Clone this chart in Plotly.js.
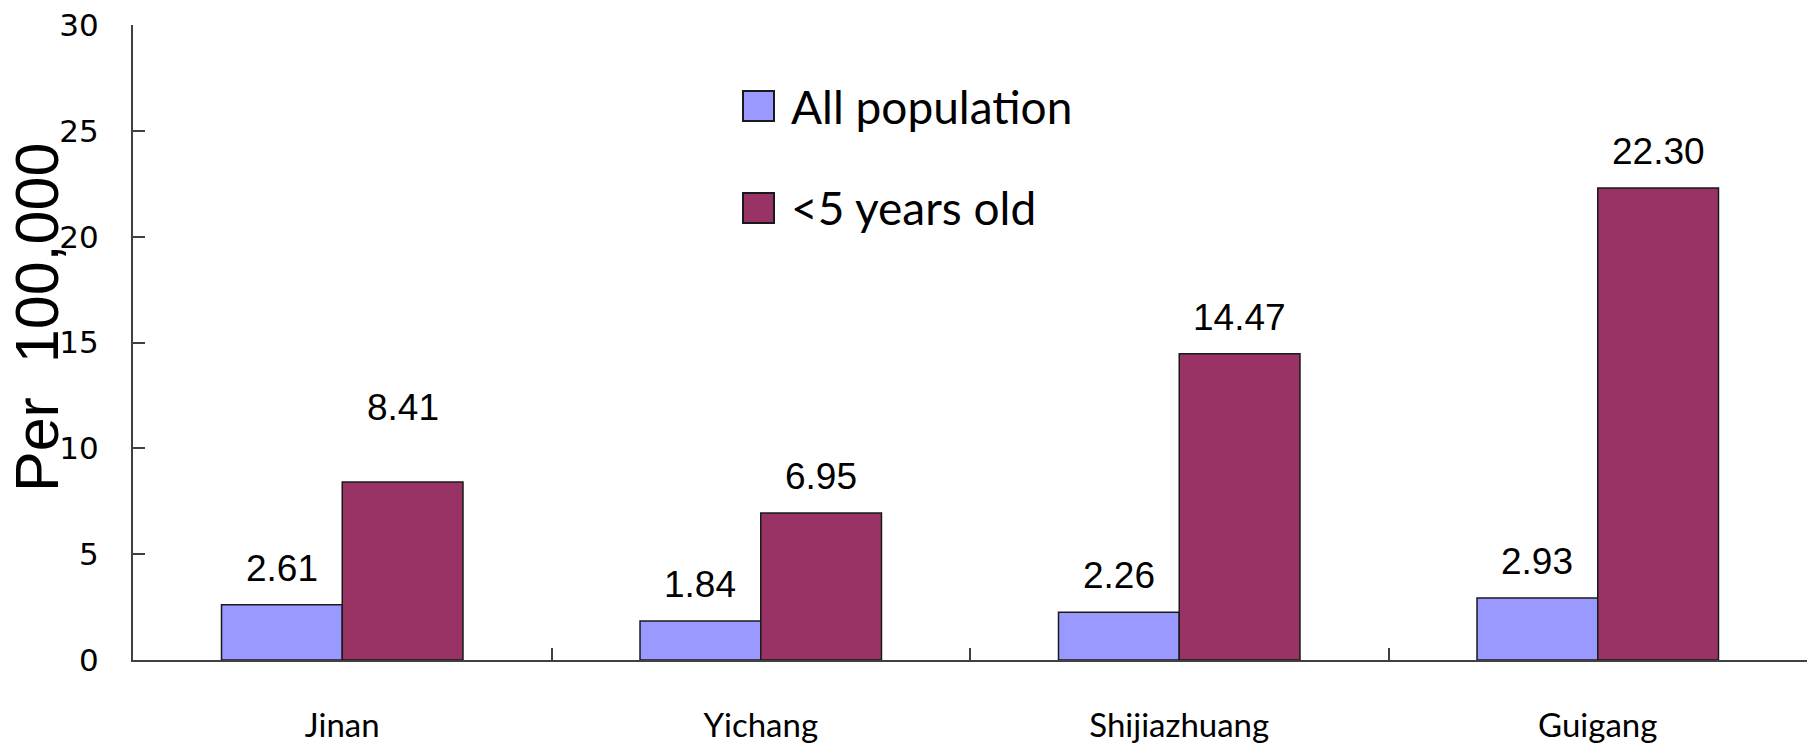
<!DOCTYPE html>
<html>
<head>
<meta charset="utf-8">
<script src="https://cdn.plot.ly/plotly-3.0.1.min.js"></script>
<style>html,body{margin:0;padding:0;background:#fff;}#chart{width:1813px;height:747px;}</style>
</head>
<body>
<div id="chart"></div>
<script>
// ---- data ----
const cities = ["Jinan", "Yichang", "Shijiazhuang", "Guigang"];
const allPopulation = [2.61, 1.84, 2.26, 2.93];
const underFive = [8.41, 6.95, 14.47, 22.30];
const seriesNames = ["All population", "<5 years old"];
const yTicks = [0, 5, 10, 15, 20, 25, 30];

// ---- styling / geometry ----
const W = 1813, H = 747;
const M = {l: 133, r: 6, t: 25, b: 87};
const PW = W - M.l - M.r, PH = H - M.t - M.b;
const px2x = p => (p - M.l) / PW;
const px2y = p => (H - M.b - p) / PH;
const colors = ["#9999FF", "#993366"];
const bargap = 0.423;
const halfOffset = (1 - bargap) / 4;
const labelShift = {"8.41": 52};

const traces = [allPopulation, underFive].map((vals, k) => ({
  type: "bar",
  x: cities,
  y: vals,
  name: seriesNames[k],
  marker: {color: colors[k], line: {color: "#1a1a1a", width: 1.5}},
  hoverinfo: "x+y+name"
}));

const annotations = [];
[allPopulation, underFive].forEach((vals, k) => {
  vals.forEach((v, i) => {
    const t = v.toFixed(2);
    annotations.push({
      x: i + (k === 0 ? -halfOffset : halfOffset), y: v, xref: "x", yref: "y",
      text: t, showarrow: false, yanchor: "bottom", xanchor: "center",
      yshift: labelShift[t] !== undefined ? labelShift[t] : 14,
      font: {family: "Liberation Sans, Arial, sans-serif", size: 37, color: "#000"}
    });
  });
});

// y axis title
annotations.push({
  xref: "paper", yref: "paper", x: px2x(37), y: px2y(318),
  text: "Per\u00A0\u00A0100,000", textangle: -90, showarrow: false,
  xanchor: "center", yanchor: "middle",
  font: {family: "Liberation Sans, Arial, sans-serif", size: 61, color: "#000"}
});

// legend (manual)
const shapes = [];
const legendRows = [106, 208];
seriesNames.forEach((n, k) => {
  const cy = legendRows[k];
  shapes.push({type: "rect", xref: "paper", yref: "paper",
    x0: px2x(743), x1: px2x(774), y0: px2y(cy + 15), y1: px2y(cy - 15),
    fillcolor: colors[k], line: {color: "#1a1a1a", width: 2}});
  annotations.push({xref: "paper", yref: "paper", x: px2x(789), y: px2y(cy),
    text: n.replace("<", "&lt;"), showarrow: false, xanchor: "left", yanchor: "middle",
    font: {family: "Lato, sans-serif", size: 46, color: "#000"}});
});

const layout = {
  width: W, height: H,
  margin: M,
  paper_bgcolor: "#fff", plot_bgcolor: "#fff",
  barmode: "group", bargap: bargap, bargroupgap: 0,
  showlegend: false,
  xaxis: {
    type: "category", tickson: "boundaries", ticks: "inside", ticklen: 12,
    tickcolor: "#404040", tickwidth: 2,
    showline: true, linecolor: "#404040", linewidth: 2,
    showgrid: false, zeroline: false, ticklabelstandoff: 35,
    tickfont: {family: "Lato, sans-serif", size: 33, color: "#000"}
  },
  yaxis: {
    range: [0, 30], tickvals: yTicks, ticks: "inside", ticklen: 12,
    tickcolor: "#404040", tickwidth: 2,
    showline: true, linecolor: "#404040", linewidth: 2,
    showgrid: false, zeroline: false, ticklabelstandoff: 26,
    tickfont: {family: "DejaVu Sans, sans-serif", size: 31, color: "#000"}
  },
  annotations: annotations,
  shapes: shapes
};

Plotly.newPlot("chart", traces, layout, {displayModeBar: false, staticPlot: true});
</script>
</body>
</html>
